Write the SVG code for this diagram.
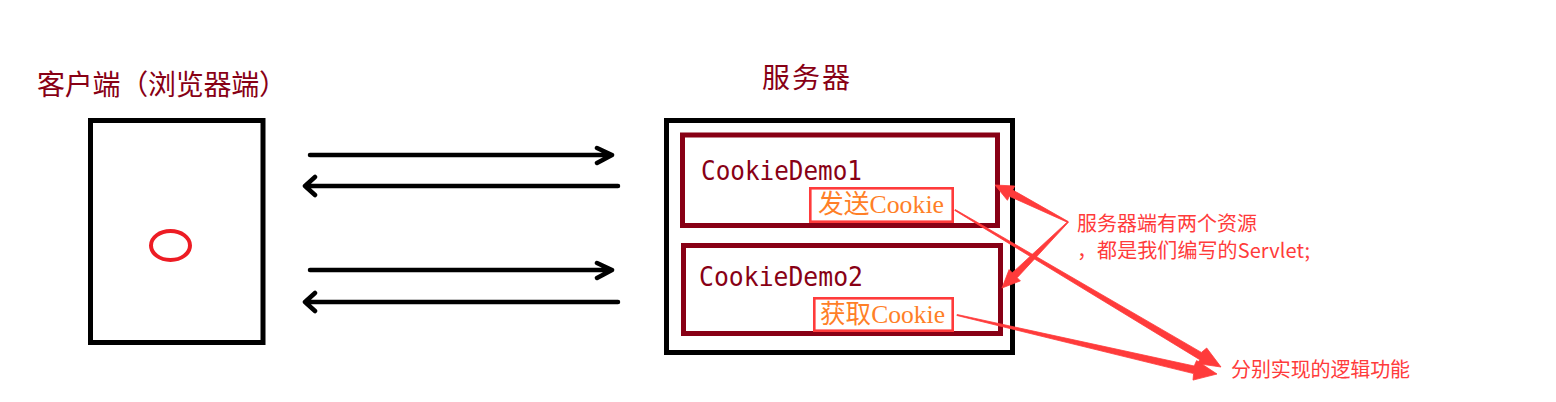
<svg xmlns="http://www.w3.org/2000/svg" width="1556" height="402" viewBox="0 0 1556 402">
  <style>
    .title { font-family: "Noto Sans CJK SC", "Liberation Sans", sans-serif; font-size: 28px; fill: #880015; }
    .box { fill: none; stroke: #000; stroke-width: 5; }
    .res { fill: none; stroke: #880015; stroke-width: 5; }
    .mono { font-family: "DejaVu Sans Mono", "Liberation Mono", monospace; font-size: 27px; fill: #880015; }
    .tag { fill: #fff; stroke: #ff3b3b; stroke-width: 2.6; }
    .tagtxt { font-family: "Liberation Serif", "Noto Sans CJK SC", serif; font-size: 26px; fill: #ff7f27; }
    .note { font-family: "Noto Sans CJK SC", "Liberation Sans", sans-serif; font-size: 20px; fill: #ff3b3b; }
    .flow { fill: none; stroke: #000; stroke-width: 4.5; stroke-linecap: round; stroke-linejoin: round; }
    .pointer { fill: #ff3b3b; stroke: #ff3b3b; stroke-width: 0.8; stroke-linejoin: round; }
  </style>

  <rect width="1556" height="402" fill="#fff"/>

  <!-- browser side -->
  <g id="client">
    <text class="title" x="37" y="95" textLength="250" lengthAdjust="spacing">客户端（浏览器端）</text>
    <rect class="box" x="90.5" y="120.5" width="172.5" height="222"/>
    <ellipse cx="170.5" cy="245.5" rx="19.5" ry="14.5" fill="none" stroke="#ed1c24" stroke-width="4"/>
  </g>

  <!-- server side -->
  <g id="server">
    <text class="title" x="762" y="88" textLength="88" lengthAdjust="spacing">服务器</text>
    <rect class="box" x="666.5" y="120.5" width="346" height="232"/>
  </g>

  <g id="cookie-demo-1">
    <rect class="res" x="682.5" y="135" width="315" height="90.5"/>
    <text class="mono" x="701" y="180" textLength="161" lengthAdjust="spacingAndGlyphs">CookieDemo1</text>
  </g>

  <g id="cookie-demo-2">
    <rect class="res" x="683.5" y="245.5" width="317" height="88"/>
    <text class="mono" x="699" y="286" textLength="164" lengthAdjust="spacingAndGlyphs">CookieDemo2</text>
  </g>

  <g id="send-cookie">
    <rect class="tag" x="810.3" y="188.3" width="142.4" height="33.4"/>
    <text class="tagtxt" x="818" y="213" textLength="126" lengthAdjust="spacingAndGlyphs">发送Cookie</text>
  </g>

  <g id="get-cookie">
    <rect class="tag" x="814.3" y="298.3" width="138.4" height="32.4"/>
    <text class="tagtxt" x="820" y="323" textLength="125" lengthAdjust="spacingAndGlyphs">获取Cookie</text>
  </g>

  <g id="note-resources">
    <text class="note" x="1077" y="231" textLength="180" lengthAdjust="spacing">服务器端有两个资源</text>
    <text class="note" x="1077" y="258" textLength="233" lengthAdjust="spacing">，都是我们编写的Servlet;</text>
  </g>

  <g id="note-logic">
    <text class="note" x="1231" y="377" textLength="179" lengthAdjust="spacing">分别实现的逻辑功能</text>
  </g>

  <!-- connectors -->
  <g id="connectors">
    <!-- request / response traffic -->
    <path class="flow" d="M310 155 H612 M597 148 L612 155 L597 163"/>
    <path class="flow" d="M618 186 H305 M315 177 L305 186 L315 195"/>
    <path class="flow" d="M310 270 H612 M597 263 L612 270 L597 278"/>
    <path class="flow" d="M618 302 H305 M315 293 L305 302 L315 311"/>

    <!-- annotation pointers: tapered shafts widening into a head -->
    <polygon class="pointer" points="1068.23,221.55 1012.7,190.0 1014.7,186.0 995,185 1007.4,200.3 1009.4,196.3 1067.77,222.45"/>
    <polygon class="pointer" points="1068.35,222.35 1017.2,277.7 1020.4,280.9 1002,288 1009.1,269.6 1012.3,272.8 1067.65,221.65"/>
    <polygon class="pointer" points="955.25,209.57 1201.4,352.4 1206.7,348.0 1221,367 1197.5,363.6 1199.8,359.7 954.75,210.43"/>
    <polygon class="pointer" points="957.11,314.51 1194.2,366.0 1196.6,360.6 1217,374 1193.0,380.1 1193.6,373.6 956.89,315.49"/>
  </g>
</svg>
